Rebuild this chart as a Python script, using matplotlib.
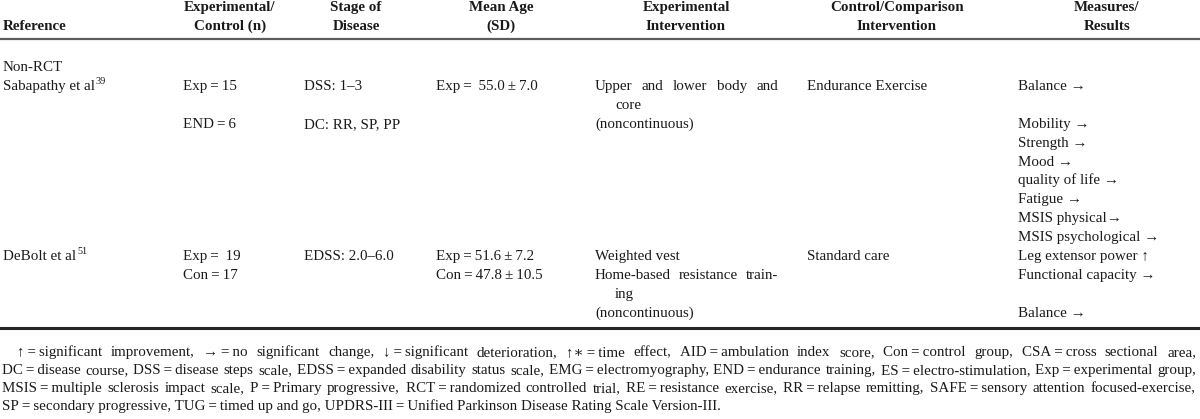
import matplotlib
matplotlib.use("Agg")
import matplotlib.pyplot as plt

# =====================================================
# DATA
# =====================================================

HEADERS = [
    ["Reference"],
    ["Experimental/", "Control (n)"],
    ["Stage of", "Disease"],
    ["Mean Age", "(SD)"],
    ["Experimental", "Intervention"],
    ["Control/Comparison", "Intervention"],
    ["Measures/", "Results"],
]

SECTION = "Non-RCT"

REFERENCES = ["Sabapathy et al", "DeBolt et al"]
REF_NUMBERS = ["39", "51"]

# one list per study, each with two sub-rows of cell lines
SAMPLE_SIZE = [
    [["Exp\u2009=\u200915"], ["END\u2009=\u20096"]],
    [["Exp\u2009=\u2009 19", "Con\u2009=\u200917"], []],
]

STAGE = [
    [["DSS: 1\u20133"], ["DC: RR, SP, PP"]],
    [["EDSS: 2.0\u20136.0"], []],
]

MEAN_AGE = [
    [["Exp\u2009=\u2009 55.0\u2009\u00b1\u20097.0"], []],
    [["Exp\u2009=\u200951.6\u2009\u00b1\u20097.2", "Con\u2009=\u200947.8\u2009\u00b1\u200910.5"], []],
]

INTERVENTION = [
    [["Upper and lower body and core"], ["(noncontinuous)"]],
    [["Weighted vest", "Home-based resistance train\u00ading"], ["(noncontinuous)"]],
]

CONTROL = [
    [["Endurance Exercise"], []],
    [["Standard care"], []],
]

MEASURES = [
    [["Balance \u2192"],
     ["Mobility \u2192", "Strength \u2192", "Mood \u2192", "quality of life \u2192",
      "Fatigue \u2192", "MSIS physical\u2192", "MSIS psychological \u2192"]],
    [["Leg extensor power \u2191", "Functional capacity \u2192"], ["Balance \u2192"]],
]

ABBREVIATIONS = [
    ("\u2191", "significant improvement"),
    ("\u2192", "no significant change"),
    ("\u2193", "significant deterioration"),
    ("\u2191\u2217", "time effect"),
    ("AID", "ambulation index score"),
    ("Con", "control group"),
    ("CSA", "cross sectional area"),
    ("DC", "disease course"),
    ("DSS", "disease steps scale"),
    ("EDSS", "expanded disability status scale"),
    ("EMG", "electromyography"),
    ("END", "endurance training"),
    ("ES", "electro-stimulation"),
    ("Exp", "experimental group"),
    ("MSIS", "multiple sclerosis impact scale"),
    ("P", "Primary progressive"),
    ("RCT", "randomized controlled trial"),
    ("RE", "resistance exercise"),
    ("RR", "relapse remitting"),
    ("SAFE", "sensory attention focused-exercise"),
    ("SP", "secondary progressive"),
    ("TUG", "timed up and go"),
    ("UPDRS-III", "Unified Parkinson Disease Rating Scale Version-III"),
]

# =====================================================
# LAYOUT
# =====================================================

FAM = ["Liberation Serif", "DejaVu Serif"]
FS = 10.8
INK = "#1a1a1a"

COL_LEFT = [3, 183, 304, 436, 595, 807, 1018]
COL_WIDTH = [175, 118, 128, 155, 183, 205, 180]
HEAD_CENTER = [None, 230, 356, 501, 686, 897, 1107]

LINE_H = 18.9
NOTE_H = 18.0
BASE = 5  # visual centre -> baseline

fig = plt.figure(figsize=(12, 4.19), dpi=100)
ax = fig.add_axes([0, 0, 1, 1])
ax.set_xlim(0, 1200)
ax.set_ylim(419, 0)
ax.axis("off")
renderer = fig.canvas.get_renderer()


def width_of(s, weight="normal", size=FS):
    t = ax.text(0, 0, s, fontsize=size, fontweight=weight, family=FAM)
    w = t.get_window_extent(renderer).width
    t.remove()
    return w


def wrap(text, width, first_indent=0, rest_indent=0):
    words = text.split(" ")
    lines = []
    cur = []
    while words:
        indent = first_indent if not lines else rest_indent
        avail = width - indent
        w = words[0]
        cand = cur + [w.replace("\u00ad", "")]
        if width_of(" ".join(cand)) <= avail or (not cur and "\u00ad" not in w):
            cur = cand
            words.pop(0)
            continue
        if "\u00ad" in w:
            head, tail = w.split("\u00ad", 1)
            cand = cur + [head + "-"]
            if width_of(" ".join(cand)) <= avail:
                cur = cand
                words[0] = tail
        lines.append((cur, indent))
        cur = []
    lines.append((cur, first_indent if not lines else rest_indent))
    return lines


def draw_paragraph(text, x0, width, y, first_indent=0, rest_indent=0, line_h=LINE_H):
    lines = wrap(text, width, first_indent, rest_indent)
    for i, (words, indent) in enumerate(lines):
        yy = y + i * line_h + BASE
        if i < len(lines) - 1 and len(words) > 1:
            # justified line
            widths = [width_of(w) for w in words]
            gap = (width - indent - sum(widths)) / (len(words) - 1)
            x = x0 + indent
            for w, ww in zip(words, widths):
                ax.text(x, yy, w, fontsize=FS, family=FAM, color=INK, va="baseline")
                x += ww + gap
        else:
            ax.text(x0 + indent, yy, " ".join(words), fontsize=FS, family=FAM,
                    color=INK, va="baseline")
    return len(lines)


# =====================================================
# HEADER
# =====================================================

for col, label in enumerate(HEADERS):
    if HEAD_CENTER[col] is None:
        ax.text(COL_LEFT[col], 25 + BASE, label[0], fontsize=FS, fontweight="bold",
                family=FAM, color=INK, va="baseline")
        continue
    for i, part in enumerate(label):
        ax.text(HEAD_CENTER[col], 6 + i * LINE_H + BASE, part, fontsize=FS,
                fontweight="bold", family=FAM, color=INK, ha="center", va="baseline")

ax.axhline(39, color="#5c5c5c", lw=1.6)

# =====================================================
# BODY
# =====================================================

ax.text(COL_LEFT[0], 66 + BASE, SECTION, fontsize=FS, family=FAM, color=INK, va="baseline")

columns = [SAMPLE_SIZE, STAGE, MEAN_AGE, INTERVENTION, CONTROL, MEASURES]
y = 66 + LINE_H

for s, ref in enumerate(REFERENCES):
    ax.text(COL_LEFT[0], y + BASE, ref, fontsize=FS, family=FAM, color=INK, va="baseline")
    ax.text(COL_LEFT[0] + width_of(ref) + 1, y + BASE - 6, REF_NUMBERS[s], fontsize=7.4,
            family=FAM, color=INK, va="baseline")
    for sub in range(2):
        used = 0
        for c, data in enumerate(columns):
            col = c + 1
            n = 0
            for para in data[s][sub]:
                n += draw_paragraph(para, COL_LEFT[col], COL_WIDTH[col], y + n * LINE_H,
                                    0, 20)
            used = max(used, n)
        y += used * LINE_H

ax.axhline(328, color="#262626", lw=2.2)

# =====================================================
# FOOTNOTE
# =====================================================

footnote = ", ".join(f"{a}\u2009=\u2009{b}" for a, b in ABBREVIATIONS) + "."
draw_paragraph(footnote, 2, 1194, 351, 15, 0, NOTE_H)

fig.savefig("out.png", dpi=100)
